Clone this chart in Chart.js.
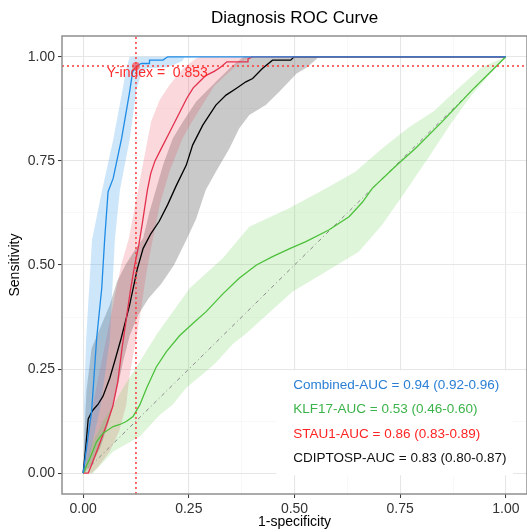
<!doctype html>
<html lang="en">
  <head>
    <meta charset="utf-8">
    <title>Diagnosis ROC Curve</title>
    <style>
      * {
        margin: 0;
        padding: 0;
      }
      body {
        background: #fff;
        overflow: hidden;
      }
    </style>
  </head>
  <body>
    <canvas id="rocChart" width="531" height="532"></canvas>
    <script src="https://cdn.jsdelivr.net/npm/chart.js/dist/chart.umd.min.js"></script>
    <script>
    // axis ticks
    const gridValues = [0, 0.125, 0.25, 0.375, 0.5, 0.625, 0.75, 0.875, 1];
    const tickValues = [0, 0.25, 0.5, 0.75, 1];
    const tickLabels = ['0.00', '0.25', '0.50', '0.75', '1.00'];

    // ROC curves, [1-specificity, sensitivity]
    const combinedLine = [[0,0],[0.012,0.09],[0.02,0.148],[0.032,0.324],[0.044,0.444],[0.051,0.563],[0.059,0.676],
      [0.071,0.708],[0.091,0.804],[0.110,0.916],[0.117,0.964],[0.126,0.978],[0.138,0.984],[0.157,0.984],[0.157,0.992],
      [0.189,0.992],[0.2,1.0],[1,1]];
    const klf17Line = [[0,0],[0.016,0.036],[0.032,0.076],[0.047,0.096],[0.071,0.112],[0.087,0.117],[0.102,0.124],
      [0.118,0.136],[0.134,0.164],[0.15,0.204],[0.173,0.255],[0.197,0.292],[0.228,0.33],[0.26,0.36],[0.291,0.388],
      [0.33,0.43],[0.369,0.468],[0.41,0.5],[0.448,0.52],[0.49,0.54],[0.527,0.556],[0.581,0.584],[0.629,0.616],
      [0.66,0.65],[0.684,0.684],[0.746,0.744],[0.786,0.78],[0.85,0.845],[0.92,0.92],[1,1]];
    const stau1Line = [[0,0],[0.012,0],[0.02,0.02],[0.035,0.06],[0.055,0.115],[0.07,0.16],[0.082,0.22],[0.092,0.30],
      [0.102,0.37],[0.112,0.44],[0.122,0.5],[0.132,0.55],[0.14,0.6],[0.146,0.64],[0.152,0.68],[0.16,0.72],[0.17,0.75],
      [0.185,0.78],[0.2,0.81],[0.215,0.84],[0.23,0.87],[0.245,0.90],[0.26,0.925],[0.275,0.94],[0.29,0.955],
      [0.31,0.965],[0.325,0.975],[0.34,0.988],[0.39,0.988],[0.39,0.995],[0.4,1.0],[1,1]];
    const cdiptospLine = [[0,0],[0.006,0.06],[0.012,0.13],[0.022,0.15],[0.035,0.165],[0.047,0.185],[0.063,0.228],
      [0.075,0.27],[0.09,0.324],[0.11,0.404],[0.128,0.49],[0.142,0.54],[0.16,0.575],[0.18,0.605],[0.2,0.645],
      [0.22,0.69],[0.244,0.74],[0.259,0.788],[0.283,0.836],[0.314,0.884],[0.338,0.908],[0.362,0.924],[0.385,0.94],
      [0.401,0.948],[0.424,0.972],[0.448,0.992],[0.491,0.992],[0.499,1.0],[1,1]];

    // confidence bands: upper (left) and lower (right) edges
    const combinedUpper = [[0,0],[0.002,0.16],[0.007,0.32],[0.021,0.56],[0.045,0.68],[0.071,0.80],[0.093,0.92],
      [0.102,0.97],[0.11,1.0],[0.24,1.0]];
    const combinedLower = [[0,0],[0.015,0.04],[0.041,0.16],[0.063,0.32],[0.075,0.56],[0.087,0.68],[0.11,0.80],
      [0.126,0.92],[0.138,0.962],[0.15,0.972],[0.2,0.975],[0.235,0.99],[0.24,1.0]];
    const klf17Upper = [[0,0],[0.02,0.07],[0.05,0.13],[0.075,0.17],[0.094,0.204],[0.134,0.268],[0.175,0.335],
      [0.252,0.444],[0.33,0.516],[0.393,0.592],[0.487,0.636],[0.574,0.684],[0.644,0.724],[0.707,0.78],[0.77,0.83],
      [0.83,0.87],[0.887,0.924],[0.943,0.975],[1,1]];
    const klf17Lower = [[0,0],[0.023,0],[0.071,0.052],[0.134,0.088],[0.181,0.14],[0.212,0.165],[0.244,0.205],
      [0.291,0.245],[0.314,0.265],[0.354,0.31],[0.385,0.335],[0.495,0.436],[0.574,0.484],[0.652,0.532],[0.707,0.596],
      [0.762,0.676],[0.825,0.77],[0.87,0.84],[0.919,0.908],[0.96,0.955],[1,1]];
    const stau1Upper = [[0,0],[0.01,0.1],[0.03,0.2],[0.05,0.3],[0.07,0.4],[0.09,0.5],[0.108,0.563],[0.138,0.724],
      [0.161,0.845],[0.181,0.896],[0.204,0.932],[0.236,0.972],[0.267,0.996],[0.28,1.0],[0.40,1.0]];
    const stau1Lower = [[0,0],[0.02,0],[0.035,0.015],[0.063,0.052],[0.085,0.1],[0.102,0.164],[0.11,0.236],
      [0.125,0.32],[0.138,0.40],[0.15,0.484],[0.165,0.563],[0.181,0.644],[0.204,0.724],[0.235,0.804],[0.255,0.84],
      [0.282,0.884],[0.31,0.93],[0.346,0.964],[0.37,0.985],[0.40,1.0]];
    const cdiptospUpper = [[0,0],[0.003,0.1],[0.008,0.2],[0.02,0.3],[0.045,0.36],[0.063,0.404],[0.08,0.46],
      [0.1,0.5],[0.125,0.54],[0.142,0.564],[0.157,0.628],[0.173,0.684],[0.189,0.74],[0.212,0.804],[0.236,0.844],
      [0.267,0.892],[0.314,0.94],[0.354,0.98],[0.38,1.0],[0.558,1.0]];
    const cdiptospLower = [[0,0],[0.02,0.02],[0.04,0.06],[0.06,0.12],[0.08,0.2],[0.095,0.27],[0.11,0.33],
      [0.13,0.38],[0.155,0.42],[0.185,0.455],[0.215,0.5],[0.244,0.56],[0.267,0.61],[0.29,0.68],[0.314,0.724],
      [0.346,0.78],[0.369,0.828],[0.393,0.86],[0.432,0.884],[0.464,0.916],[0.505,0.96],[0.53,0.975],[0.558,1.0]];

    const diagonal = [[0,0],[1,1]];

    // best cut-off of the combined model
    const yIndexSpec = 0.125;
    const yIndexSens = 0.978;
    const yIndexValue = 0.853;

    const legendLabels = [
      'Combined-AUC = 0.94 (0.92-0.96)',
      'KLF17-AUC = 0.53 (0.46-0.60)',
      'STAU1-AUC = 0.86 (0.83-0.89)',
      'CDIPTOSP-AUC = 0.83 (0.80-0.87)'
    ];
    const legendColors = ['#2a7fd4', '#3cb34a', '#ff2424', '#111111'];

    Chart.defaults.font.family = "'Liberation Sans', Arial, sans-serif";

    const pts = (arr) => arr.map(p => ({x: p[0], y: p[1]}));
    // polygon: go up the upper edge, come back down the lower edge
    const band = (up, low) => pts(up.concat(low.slice().reverse()));

    function lineSet(data, color, order) {
      return {data: pts(data), showLine: true, borderColor: color, borderWidth: 1.3,
        pointRadius: 0, fill: false, order: order, tension: 0};
    }
    function bandSet(up, low, color, order) {
      return {data: band(up, low), showLine: true, borderWidth: 0, borderColor: 'transparent',
        backgroundColor: color, pointRadius: 0, fill: 'shape', order: order};
    }

    const datasets = [
      lineSet(combinedLine, '#1e8be6', 1),
      lineSet(klf17Line, '#4cc13a', 2),
      lineSet(stau1Line, '#e3304c', 3),
      lineSet(cdiptospLine, '#000000', 4),
      {data: pts(diagonal), showLine: true, borderColor: '#8a8a8a', borderWidth: 1,
        borderDash: [4, 3, 1, 3], pointRadius: 0, fill: false, order: 5},
      bandSet(combinedUpper, combinedLower, 'rgba(52,152,235,0.24)', 10),
      bandSet(klf17Upper, klf17Lower, 'rgba(90,205,70,0.2)', 11),
      bandSet(stau1Upper, stau1Lower, 'rgba(230,60,80,0.2)', 12),
      bandSet(cdiptospUpper, cdiptospLower, 'rgba(100,100,100,0.35)', 13),
      // Y-index guide lines and point
      {data: [{x: yIndexSpec, y: -0.05}, {x: yIndexSpec, y: 1.05}], showLine: true, borderColor: '#ff3a3a',
        borderWidth: 1.5, borderDash: [2, 3], pointRadius: 0, fill: false, order: 0},
      {data: [{x: -0.05, y: yIndexSens}, {x: 1.05, y: yIndexSens}], showLine: true, borderColor: '#ff3a3a',
        borderWidth: 1.5, borderDash: [2, 3], pointRadius: 0, fill: false, order: 0},
      {data: [{x: yIndexSpec, y: yIndexSens}], pointRadius: 4, pointBackgroundColor: 'rgba(255,60,60,0.6)',
        pointBorderWidth: 0, order: 0}
    ];

    const isMajor = (v) => tickValues.indexOf(v) >= 0;

    function axis(titleText, titlePad) {
      return {
        type: 'linear',
        min: -0.05,
        max: 1.05,
        afterBuildTicks: (s) => { s.ticks = gridValues.map(v => ({value: v})); },
        ticks: {
          autoSkip: false,
          maxRotation: 0,
          padding: 3,
          color: '#333333',
          font: {size: 14},
          callback: (v) => isMajor(v) ? tickLabels[tickValues.indexOf(v)] : ''
        },
        grid: {
          color: (c) => isMajor(c.tick.value) ? '#e6e6e6' : '#f3f3f3',
          lineWidth: (c) => isMajor(c.tick.value) ? 1.1 : 0.6,
          tickColor: (c) => isMajor(c.tick.value) ? '#333333' : 'transparent',
          tickLength: 4,
          tickWidth: 1
        },
        border: {display: false},
        title: {display: true, text: titleText, color: '#000', font: {size: 14}, padding: titlePad}
      };
    }

    const xAxis = axis('1-specificity', {top: 0, bottom: 1});
    xAxis.afterFit = (s) => { s.height = 38; };
    const yAxis = axis('Sensitivity', {top: 7, bottom: 0});
    yAxis.afterFit = (s) => { s.width = 62; };

    // white legend box with the AUC labels, panel frame, Y-index label
    const annotations = {
      id: 'annotations',
      beforeDatasetsDraw(chart) {
        const {ctx, scales: {x, y}} = chart;
        ctx.save();
        ctx.fillStyle = '#ffffff';
        const x0 = x.getPixelForValue(0.457), x1 = x.getPixelForValue(1.017);
        const y0 = y.getPixelForValue(0.247), y1 = y.getPixelForValue(-0.005);
        ctx.fillRect(x0, y0, x1 - x0, y1 - y0);
        ctx.restore();
      },
      afterDatasetsDraw(chart) {
        const {ctx, chartArea: a, scales: {x, y}} = chart;
        ctx.save();
        ctx.font = "13.5px 'Liberation Sans', Arial, sans-serif";
        ctx.textAlign = 'left';
        ctx.textBaseline = 'middle';
        const lx = x.getPixelForValue(0.497);
        const ly = y.getPixelForValue(0.211);
        legendLabels.forEach((t, i) => {
          ctx.fillStyle = legendColors[i];
          ctx.fillText(t, lx, ly + i * 24.4);
        });
        ctx.fillStyle = '#ff2a2a';
        ctx.font = "14px 'Liberation Sans', Arial, sans-serif";
        ctx.fillText('Y-index =  ' + yIndexValue.toFixed(3), x.getPixelForValue(0.056), y.getPixelForValue(0.96));
        ctx.strokeStyle = '#8f8f8f';
        ctx.lineWidth = 1.5;
        ctx.strokeRect(a.left, a.top, a.right - a.left, a.bottom - a.top);
        ctx.restore();
      }
    };

    const rocChart = new Chart(document.getElementById('rocChart'), {
      type: 'scatter',
      data: {datasets},
      options: {
        responsive: false,
        animation: false,
        layout: {padding: {left: 0, right: 2, top: 0, bottom: 0}},
        scales: {x: xAxis, y: yAxis},
        plugins: {
          legend: {display: false},
          tooltip: {enabled: false},
          title: {
            display: true,
            fullSize: false,
            text: 'Diagnosis ROC Curve',
            color: '#000',
            font: {size: 17, weight: 'normal'},
            padding: {top: 8, bottom: 7.6}
          }
        }
      },
      plugins: [annotations]
    });
    </script>
  </body>
</html>
